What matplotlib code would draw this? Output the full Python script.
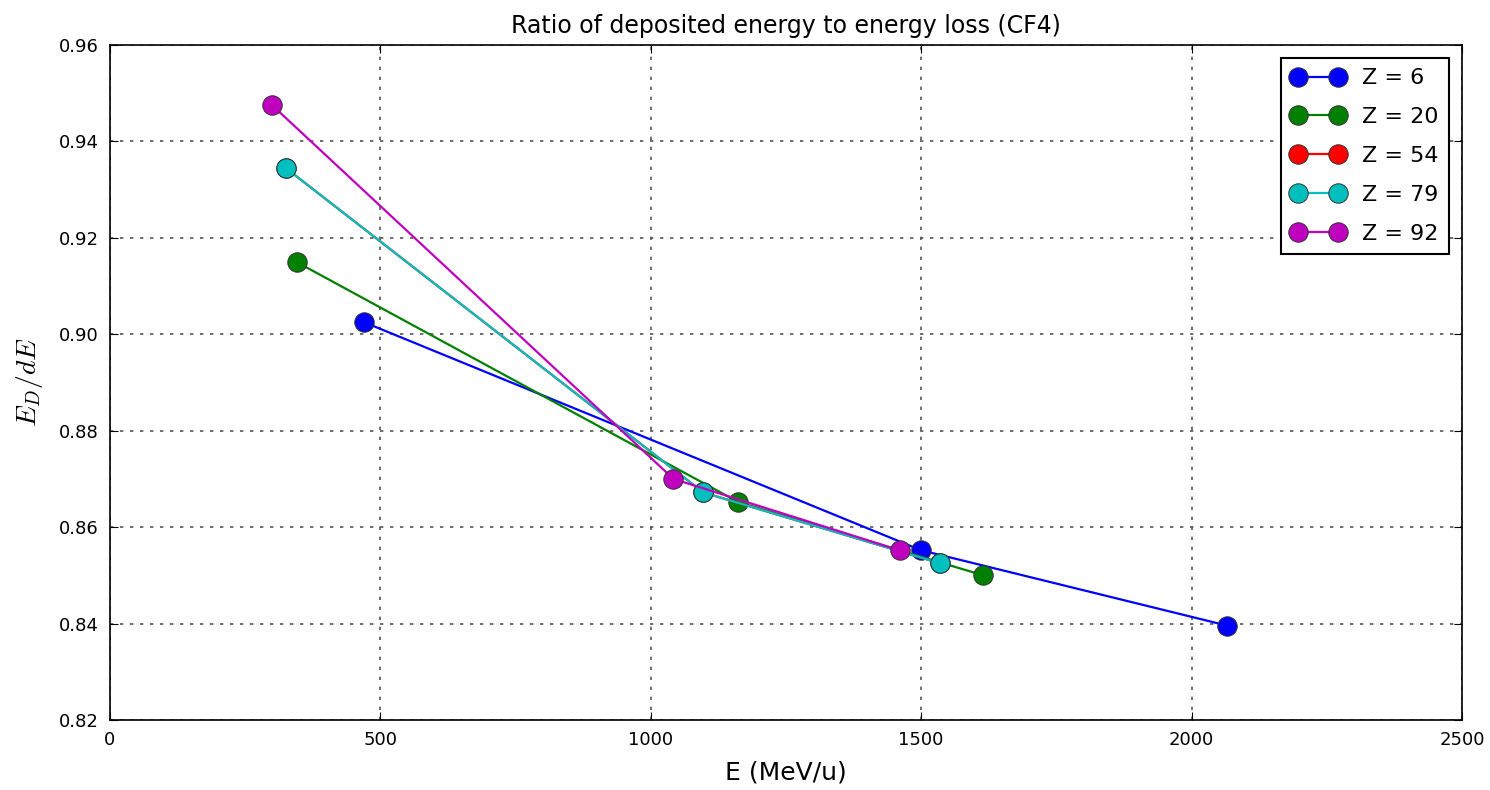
import matplotlib
matplotlib.use("Agg")
import matplotlib.pyplot as plt

plt.rcParams["mathtext.fontset"] = "cm"

labels = ["Z = 6", "Z = 20", "Z = 54", "Z = 79", "Z = 92"]
colors = ["#0000ff", "#008000", "#ff0000", "#00bfbf", "#bf00bf"]
E_z6 = [470, 1500, 2065]
R_z6 = [0.9025, 0.8552, 0.8396]
E_z20 = [345, 1162, 1615]
R_z20 = [0.9150, 0.8652, 0.8500]
E_z54 = [325, 1097, 1535]
R_z54 = [0.9345, 0.8672, 0.8525]
E_z79 = [325, 1097, 1535]
R_z79 = [0.9345, 0.8672, 0.8525]
E_z92 = [300, 1042, 1460]
R_z92 = [0.9475, 0.8700, 0.8552]
xticks = [0, 500, 1000, 1500, 2000, 2500]
yticks = [0.82, 0.84, 0.86, 0.88, 0.90, 0.92, 0.94, 0.96]

series = [(E_z6, R_z6), (E_z20, R_z20), (E_z54, R_z54), (E_z79, R_z79), (E_z92, R_z92)]

fig = plt.figure(figsize=(14.9, 7.9), dpi=100)
ax = fig.add_axes([0.0738, 0.0886, 0.9074, 0.8544])
for (x, y), c, lab in zip(series, colors, labels):
    ax.plot(x, y, color=c, lw=1.6, marker="o", markersize=14, markerfacecolor=c,
            markeredgecolor="#333333", markeredgewidth=0.7, label=lab)

ax.set_xlim(0, 2500)
ax.set_ylim(0.82, 0.96)
ax.set_xticks(xticks)
ax.set_yticks(yticks)
ax.set_yticklabels([f"{v:.2f}" for v in yticks])
ax.tick_params(direction="in", length=6, top=True, right=True, labelsize=13, pad=8)
ax.grid(True, color="#555555", linestyle=(0, (2, 4)), lw=1.2)
for s in ax.spines.values():
    s.set_linewidth(1.2)
ax.set_title("Ratio of deposited energy to energy loss (CF4)", fontsize=17, pad=9)
ax.set_xlabel("E (MeV/u)", fontsize=18, labelpad=8)
ax.set_ylabel(r"$E_D/dE$", fontsize=20, labelpad=10)
leg = ax.legend(loc="upper right", numpoints=2, fontsize=16, fancybox=False,
                framealpha=1, edgecolor="black", handlelength=2.4, borderpad=0.45,
                labelspacing=0.85, borderaxespad=0.6)
leg.get_frame().set_linewidth(1.5)
fig.savefig("out.png", dpi=100)
